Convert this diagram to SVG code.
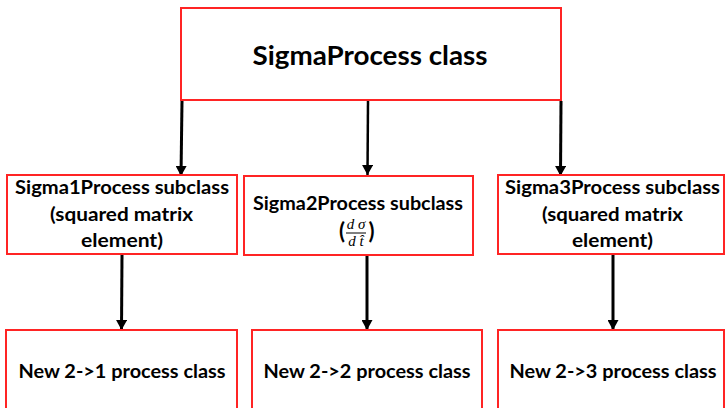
<svg xmlns="http://www.w3.org/2000/svg" width="726" height="408" viewBox="0 0 726 408">
<defs>
<style>
.box{fill:#fff;stroke:#ff2424;stroke-width:2}
.t{font-family:Lato,"Liberation Sans",sans-serif;font-weight:bold;fill:#000;text-anchor:middle}
.m{font-family:"Liberation Serif","DejaVu Serif",serif;font-style:italic;fill:#000;text-anchor:middle;font-size:15px}
.c{stroke:#000;stroke-width:3;fill:none;marker-end:url(#ah)}
</style>
<marker id="ah" markerUnits="userSpaceOnUse" markerWidth="11" markerHeight="11" refX="10" refY="5.5" orient="auto">
<path d="M0,0 L10,5.5 L0,11 z" fill="#000"/>
</marker>
</defs>
<rect width="726" height="408" fill="#fff"/>
<g id="connectors">
<line class="c" x1="182" y1="101" x2="181" y2="176"/>
<line class="c" x1="368" y1="101" x2="367.5" y2="175" style="stroke-width:2.5"/>
<line class="c" x1="561" y1="101" x2="560.5" y2="176"/>
<line class="c" x1="122" y1="255" x2="121.5" y2="330"/>
<line class="c" x1="367" y1="256" x2="367" y2="330"/>
<line class="c" x1="613" y1="255" x2="613" y2="330"/>
</g>
<g id="sigmaprocess">
<rect class="box" x="181" y="8" width="380" height="92"/>
<text class="t" x="370" y="65" font-size="27" textLength="235" lengthAdjust="spacingAndGlyphs">SigmaProcess class</text>
</g>
<g id="sigma1">
<rect class="box" x="7" y="175" width="230" height="79"/>
<text class="t" x="122" y="194" font-size="18.5" textLength="214" lengthAdjust="spacingAndGlyphs">Sigma1Process subclass</text>
<text class="t" x="121.5" y="221" font-size="18.5" textLength="143" lengthAdjust="spacingAndGlyphs">(squared matrix</text>
<text class="t" x="122" y="247" font-size="18.5" textLength="82" lengthAdjust="spacingAndGlyphs">element)</text>
</g>
<g id="sigma2">
<rect class="box" x="244" y="176" width="229" height="79"/>
<text class="t" x="358" y="210" font-size="18.5" textLength="210" lengthAdjust="spacingAndGlyphs">Sigma2Process subclass</text>
<text class="t" x="342" y="239" font-size="22">(</text>
<text class="m" x="356" y="229">d σ</text>
<line x1="346" y1="233" x2="366" y2="233" stroke="#000" stroke-width="1"/>
<text class="m" x="356" y="246">d t̂</text>
<text class="t" x="371.5" y="239" font-size="22">)</text>
</g>
<g id="sigma3">
<rect class="box" x="498" y="175" width="226" height="79"/>
<text class="t" x="612.5" y="194" font-size="18.5" textLength="215" lengthAdjust="spacingAndGlyphs">Sigma3Process subclass</text>
<text class="t" x="612.5" y="221" font-size="18.5" textLength="141" lengthAdjust="spacingAndGlyphs">(squared matrix</text>
<text class="t" x="612.5" y="247" font-size="18.5" textLength="81" lengthAdjust="spacingAndGlyphs">element)</text>
</g>
<g id="new21">
<rect class="box" x="6" y="330" width="231" height="90"/>
<text class="t" x="122" y="378" font-size="19.5" textLength="207" lengthAdjust="spacingAndGlyphs">New 2-&gt;1 process class</text>
</g>
<g id="new22">
<rect class="box" x="252" y="330" width="230" height="90"/>
<text class="t" x="367" y="378" font-size="19.5" textLength="207" lengthAdjust="spacingAndGlyphs">New 2-&gt;2 process class</text>
</g>
<g id="new23">
<rect class="box" x="498" y="330" width="226" height="90"/>
<text class="t" x="613" y="378" font-size="19.5" textLength="207" lengthAdjust="spacingAndGlyphs">New 2-&gt;3 process class</text>
</g>
</svg>
